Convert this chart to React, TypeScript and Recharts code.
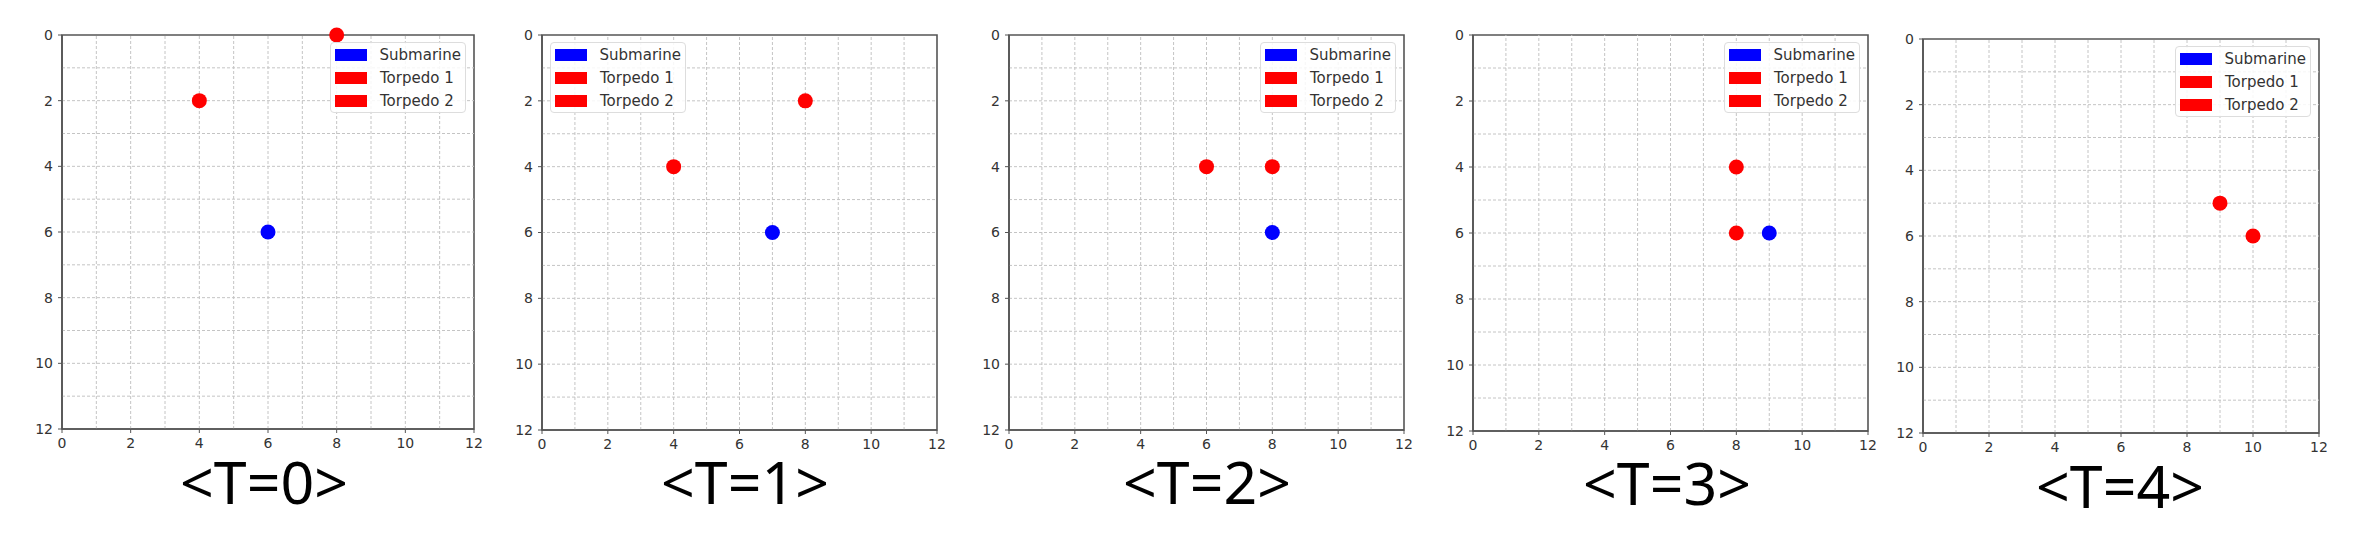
import { ScatterChart, Scatter, XAxis, YAxis, ReferenceLine, ReferenceArea, Legend } from "recharts";

const TITLES = ["<T=0>", "<T=1>", "<T=2>", "<T=3>", "<T=4>"];

// positions per time step (null = not on the board)
const SUB_X = [6, 7, 8, 9, null];
const SUB_Y = [6, 6, 6, 6, null];
const TORPEDO1_X = [8, 8, 8, 8, 10];
const TORPEDO1_Y = [0, 2, 4, 6, 6];
const TORPEDO2_X = [4, 4, 6, 8, 9];
const TORPEDO2_Y = [2, 4, 4, 4, 5];

const TICKS = [0, 2, 4, 6, 8, 10, 12];
const GRID = [1, 2, 3, 4, 5, 6, 7, 8, 9, 10, 11];

const SERIES = [
  { name: "Submarine", color: "#0000ff", xs: SUB_X, ys: SUB_Y },
  { name: "Torpedo 1", color: "#ff0000", xs: TORPEDO1_X, ys: TORPEDO1_Y },
  { name: "Torpedo 2", color: "#ff0000", xs: TORPEDO2_X, ys: TORPEDO2_Y },
];

// plot rectangles on the page
const PLOTS = [
  { left: 62, top: 35, w: 412, h: 394, legend: "right", titleX: 264, titleTop: 459 },
  { left: 542, top: 35, w: 395, h: 395, legend: "left", titleX: 745, titleTop: 459 },
  { left: 1009, top: 35, w: 395, h: 395, legend: "right", titleX: 1207, titleTop: 459 },
  { left: 1473, top: 35, w: 395, h: 396, legend: "right", titleX: 1667, titleTop: 460 },
  { left: 1923, top: 39, w: 396, h: 394, legend: "right", titleX: 2120, titleTop: 463 },
];

const ML = 60;
const MT = 15;
const MR = 15;
const XH = 30;
const MB = 10;
const LEGEND_W = 136;
const AXIS = "#555";
const tickStyle = { fill: "#333", fontSize: 14, fontFamily: "DejaVu Sans" };

const LegendBox = () => (
  <div
    style={{
      border: "1px solid #ddd",
      borderRadius: 4,
      background: "rgba(255,255,255,0.85)",
      fontFamily: "DejaVu Sans",
      fontSize: 15,
      color: "#333",
      padding: "0 4px",
    }}
  >
    {SERIES.map((s) => (
      <div key={s.name} style={{ display: "flex", alignItems: "center", height: 23 }}>
        <span style={{ width: 32, height: 12, background: s.color, marginRight: 13, display: "inline-block" }} />
        {s.name}
      </div>
    ))}
  </div>
);

function Panel({ i }: { i: number }) {
  const p = PLOTS[i];
  const width = p.w + ML + MR;
  const height = p.h + MT + XH + MB;
  const legendLeft = p.legend === "left" ? ML + 8 : ML + p.w - 8 - LEGEND_W;

  return (
    <div style={{ position: "absolute", left: p.left - ML, top: p.top - MT }}>
      <ScatterChart width={width} height={height} margin={{ top: MT, right: MR, bottom: MB, left: 0 }}>
        <XAxis
          type="number"
          dataKey="x"
          domain={[0, 12]}
          ticks={TICKS}
          height={XH}
          tickSize={4}
          tickMargin={5}
          tick={tickStyle}
          axisLine={{ stroke: AXIS, strokeWidth: 1.6 }}
          tickLine={{ stroke: AXIS }}
        />
        <YAxis
          type="number"
          dataKey="y"
          domain={[0, 12]}
          reversed
          ticks={TICKS}
          width={ML}
          tickSize={4}
          tickMargin={5}
          tick={tickStyle}
          axisLine={{ stroke: AXIS, strokeWidth: 1.6 }}
          tickLine={{ stroke: AXIS }}
        />
        {GRID.map((v) => (
          <ReferenceLine key={"x" + v} x={v} stroke="#c4c4c4" strokeDasharray="3 2" />
        ))}
        {GRID.map((v) => (
          <ReferenceLine key={"y" + v} y={v} stroke="#c4c4c4" strokeDasharray="3 2" />
        ))}
        <ReferenceArea x1={0} x2={12} y1={0} y2={12} fill="none" stroke={AXIS} strokeWidth={1.6} />
        {SERIES.map((s) => (
          <Scatter
            key={s.name}
            name={s.name}
            data={s.xs[i] == null ? [] : [{ x: s.xs[i], y: s.ys[i] }]}
            fill={s.color}
            isAnimationActive={false}
            shape={(props: any) => <circle cx={props.cx} cy={props.cy} r={7.5} fill={s.color} />}
          />
        ))}
        <Legend
          layout="vertical"
          align="center"
          verticalAlign="middle"
          content={() => <LegendBox />}
          wrapperStyle={{ top: MT + 7, left: legendLeft, width: LEGEND_W, height: "auto" }}
        />
      </ScatterChart>
    </div>
  );
}

export default function App() {
  return (
    <div
      style={{
        position: "absolute",
        left: 0,
        top: 0,
        width: 2377,
        height: 553,
        background: "#fff",
        overflow: "hidden",
      }}
    >
      {PLOTS.map((p, i) => (
        <Panel key={i} i={i} />
      ))}
      {PLOTS.map((p, i) => (
        <div
          key={"t" + i}
          style={{
            position: "absolute",
            left: p.titleX,
            top: p.titleTop,
            transform: "translateX(-50%)",
            whiteSpace: "nowrap",
            fontFamily: "Noto Sans",
            fontSize: 59,
            lineHeight: "44px",
            color: "#000",
          }}
        >
          {TITLES[i]}
        </div>
      ))}
    </div>
  );
}
